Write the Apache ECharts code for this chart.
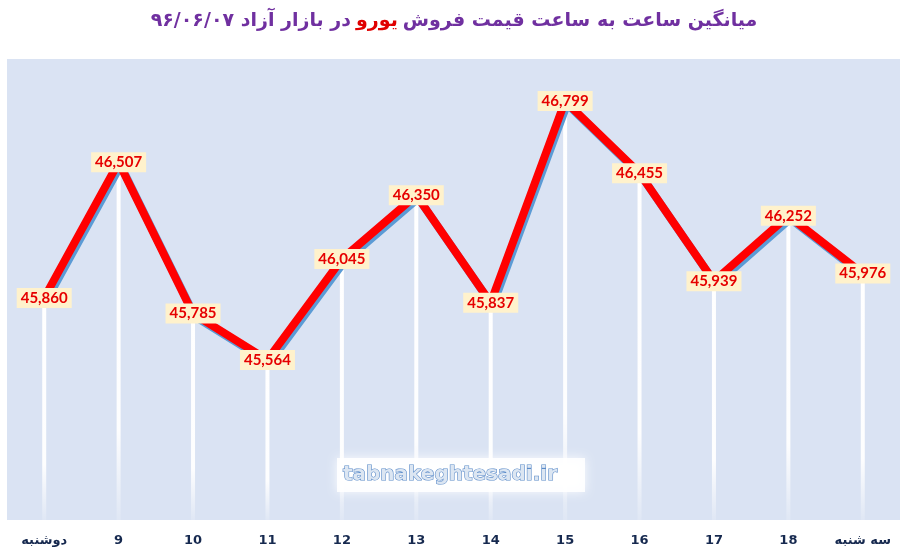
<!DOCTYPE html>
<html>
<head>
<meta charset="utf-8">
<script src="https://cdn.jsdelivr.net/npm/echarts@6/dist/echarts.min.js"></script>
<style>
  html, body { margin: 0; padding: 0; background: #fff; }
  #chart { width: 908px; height: 557px; }
</style>
</head>
<body>
<div id="chart"></div>
<script>
var categories = ['دوشنبه', '9', '10', '11', '12', '13', '14', '15', '16', '17', '18', 'سه شنبه'];
var prices = [45860, 46507, 45785, 45564, 46045, 46350, 45837, 46799, 46455, 45939, 46252, 45976];
var yMin = 44800;
var yMax = 47000;

var chart = echarts.init(document.getElementById('chart'));

var option = {
    backgroundColor: '#ffffff',
    animation: false,
    title: {
        left: 'center',
        top: 7,
        text: '{a|در بازار آزاد ۹۶/۰۶/۰۷} {b|یورو} {a|میانگین ساعت به ساعت قیمت فروش}',
        textStyle: {
            rich: {
                a: { color: '#7030A0', fontSize: 19, fontWeight: 'bold', fontFamily: 'DejaVu Sans' },
                b: { color: '#E00000', fontSize: 19, fontWeight: 'bold', fontFamily: 'DejaVu Sans' }
            }
        }
    },
    grid: {
        left: 7,
        right: 8,
        top: 59,
        bottom: 37,
        show: true,
        backgroundColor: '#DAE3F3',
        borderWidth: 0
    },
    xAxis: {
        type: 'category',
        data: categories,
        boundaryGap: true,
        axisLine: { show: false },
        axisTick: { show: false },
        splitLine: { show: false },
        axisLabel: {
            margin: 14,
            color: '#16294F',
            fontWeight: 'bold',
            fontSize: 13,
            fontFamily: 'Liberation Sans Narrow, DejaVu Sans'
        }
    },
    yAxis: {
        type: 'value',
        min: yMin,
        max: yMax,
        show: false,
        splitLine: { show: false }
    },
    series: [{
        type: 'bar',
        data: prices,
        barWidth: 4,
        z: 1,
        silent: true,
        itemStyle: {
            color: new echarts.graphic.LinearGradient(0, 0, 0, 1, [
                { offset: 0, color: '#ffffff' },
                { offset: 0.75, color: 'rgba(255,255,255,0.95)' },
                { offset: 1, color: 'rgba(255,255,255,0.15)' }
            ])
        }
    }, {
        type: 'line',
        data: prices,
        z: 3,
        symbol: 'circle',
        symbolSize: 6,
        itemStyle: { color: '#FF0000' },
        lineStyle: {
            color: '#FF0000',
            width: 8,
            shadowColor: '#5B9BD5',
            shadowOffsetX: 2,
            shadowOffsetY: 3,
            shadowBlur: 0
        },
        label: {
            show: true,
            position: 'inside',
            formatter: function (p) { return p.value.toLocaleString('en-US'); },
            color: '#E60000',
            fontWeight: 'bold',
            fontSize: 15,
            fontFamily: 'Lato, Open Sans, sans-serif',
            backgroundColor: '#FFF2CC',
            padding: [3, 4, 2, 4]
        }
    }],
    graphic: [{
        type: 'group',
        left: 337,
        top: 458,
        z: 10,
        children: [{
            type: 'rect',
            z: 10,
            shape: { x: 0, y: 0, width: 248, height: 34 },
            style: {
                fill: 'rgba(255,255,255,0.88)',
                shadowColor: 'rgba(255,255,255,1)',
                shadowBlur: 10
            }
        }, {
            type: 'text',
            z: 11,
            x: 6,
            y: 17,
            style: {
                text: 'tabnakeghtesadi.ir',
                fontFamily: 'DejaVu Sans',
                fontWeight: 'bold',
                fontSize: 20,
                fill: '#DCE6F2',
                stroke: '#5B8BC9',
                lineWidth: 1.2,
                verticalAlign: 'middle'
            }
        }]
    }]
};

chart.setOption(option);
</script>
</body>
</html>
